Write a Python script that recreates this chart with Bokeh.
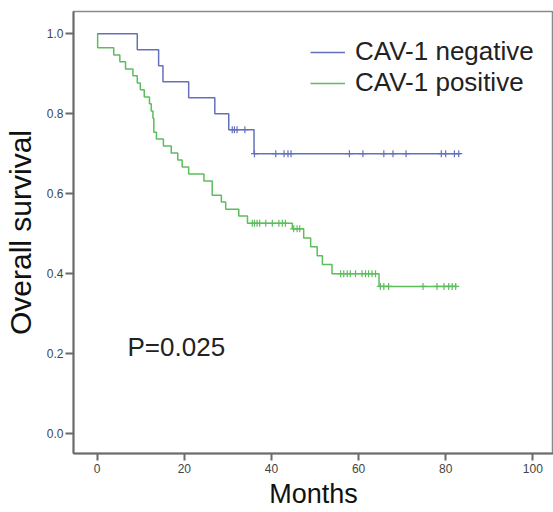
from bokeh.plotting import figure
from bokeh.models import (Range1d, FixedTicker, NumeralTickFormatter, Label,
                          Legend, LegendItem)
from bokeh.embed import file_html
from bokeh.resources import INLINE

# ---------------- data ----------------
neg_times = [0, 9.2, 14.1, 15.1, 21.0, 27.0, 30.2, 36.0, 83.4]
neg_surv = [1.0, 0.96, 0.92, 0.88, 0.84, 0.80, 0.76, 0.70, 0.70]
neg_cens_times = [31.0, 31.5, 32.1, 33.9, 36.1, 41.0, 42.9, 43.8, 44.5,
                  57.9, 61.0, 65.8, 67.9, 70.9, 79.0, 80.0, 82.0, 83.0]
neg_cens_surv = [0.76, 0.76, 0.76, 0.76, 0.70, 0.70, 0.70, 0.70, 0.70,
                 0.70, 0.70, 0.70, 0.70, 0.70, 0.70, 0.70, 0.70, 0.70]

pos_times = [0, 0.1, 3.8, 5.2, 6.5, 8.2, 9.2, 9.9, 10.8, 12.0, 12.4, 12.8,
             13.0, 13.6, 15.2, 17.0, 18.5, 19.5, 21.0, 24.5, 26.4, 28.5,
             29.5, 32.5, 34.5, 44.8, 47.4, 49.0, 50.5, 51.7, 53.9, 64.7, 82.6]
pos_surv = [1.0, 0.965, 0.947, 0.930, 0.912, 0.895, 0.877, 0.860, 0.842,
            0.825, 0.807, 0.789, 0.754, 0.737, 0.719, 0.702, 0.684, 0.667,
            0.649, 0.632, 0.596, 0.579, 0.561, 0.544, 0.526, 0.512, 0.489,
            0.467, 0.445, 0.423, 0.400, 0.368, 0.368]
pos_cens_times = [35.6, 36.1, 36.7, 37.3, 38.7, 40.2, 41.7, 42.5, 43.2,
                  45.1, 45.9, 46.5,
                  55.9, 56.6, 57.4, 58.1, 59.3, 60.8, 61.6, 62.3, 63.1, 63.9,
                  65.0, 65.8, 66.9, 74.8, 78.0, 79.6, 80.7, 81.5, 82.3]
pos_cens_surv = [0.526] * 9 + [0.512] * 3 + [0.400] * 10 + [0.368] * 9

x_ticks = [0, 20, 40, 60, 80, 100]
y_ticks = [0.0, 0.2, 0.4, 0.6, 0.8, 1.0]
series_names = ["CAV-1 negative", "CAV-1 positive"]
x_title = "Months"
y_title = "Overall survival"
p_value_text = "P=0.025"

# ---------------- styling ----------------
FONT = "Liberation Sans"
BLUE = "#6470bb"
GREEN = "#5cbd5c"
AXIS = "#6a6a6a"

p = figure(width=553, height=512, output_backend="svg", toolbar_location=None,
           x_range=Range1d(-5.44, 104.75), y_range=Range1d(-0.050, 1.0558),
           min_border_left=73, min_border_right=0, min_border_top=11,
           min_border_bottom=59)
p.xgrid.visible = False
p.ygrid.visible = False
p.outline_line_color = "#8a8a8a"
p.outline_line_width = 1.5
p.background_fill_color = "white"
p.border_fill_color = "white"

for ax in (p.xaxis[0], p.yaxis[0]):
    ax.axis_line_color = AXIS
    ax.axis_line_width = 2
    ax.major_tick_line_color = AXIS
    ax.major_tick_line_width = 2
    ax.major_tick_in = 0
    ax.minor_tick_line_color = None
    ax.major_label_text_font = FONT
    ax.major_label_text_font_size = "12px"
    ax.major_label_text_color = "#444444"
    ax.axis_label_text_font = FONT
    ax.axis_label_text_font_style = "normal"
    ax.axis_label_text_color = "#111111"

p.xaxis.ticker = FixedTicker(ticks=x_ticks)
p.xaxis.major_tick_out = 7
p.xaxis.major_label_standoff = 3
p.xaxis.axis_label = x_title
p.xaxis.axis_label_text_font_size = "27px"
p.xaxis.axis_label_standoff = 3

p.yaxis.ticker = FixedTicker(ticks=y_ticks)
p.yaxis.formatter = NumeralTickFormatter(format="0.0")
p.yaxis.major_tick_out = 8
p.yaxis.major_label_standoff = 2
p.yaxis.axis_label = y_title
p.yaxis.axis_label_text_font_size = "30px"
p.yaxis.axis_label_standoff = 7

r_neg = p.step(neg_times, neg_surv, mode="after", line_color=BLUE, line_width=1.5)
r_pos = p.step(pos_times, pos_surv, mode="after", line_color=GREEN, line_width=1.5)
p.scatter(neg_cens_times, neg_cens_surv, marker="cross", size=7,
          line_color=BLUE, line_width=1.2)
p.scatter(pos_cens_times, pos_cens_surv, marker="cross", size=7,
          line_color=GREEN, line_width=1.2)

legend = Legend(items=[LegendItem(label=series_names[0], renderers=[r_neg]),
                       LegendItem(label=series_names[1], renderers=[r_pos])],
                location=(237, 355))
legend.label_text_font = FONT
legend.label_text_font_size = "26px"
legend.label_text_color = "#222222"
legend.glyph_width = 35
legend.label_standoff = 10
legend.spacing = 0
legend.padding = 0
legend.margin = 0
legend.border_line_alpha = 0
legend.background_fill_alpha = 0
p.add_layout(legend)

p.add_layout(Label(x=6.96, y=0.216, text=p_value_text, text_font=FONT,
                   text_font_size="26px", text_color="#222222",
                   text_baseline="alphabetic"))

open("out.html", "w").write(file_html(p, INLINE))
